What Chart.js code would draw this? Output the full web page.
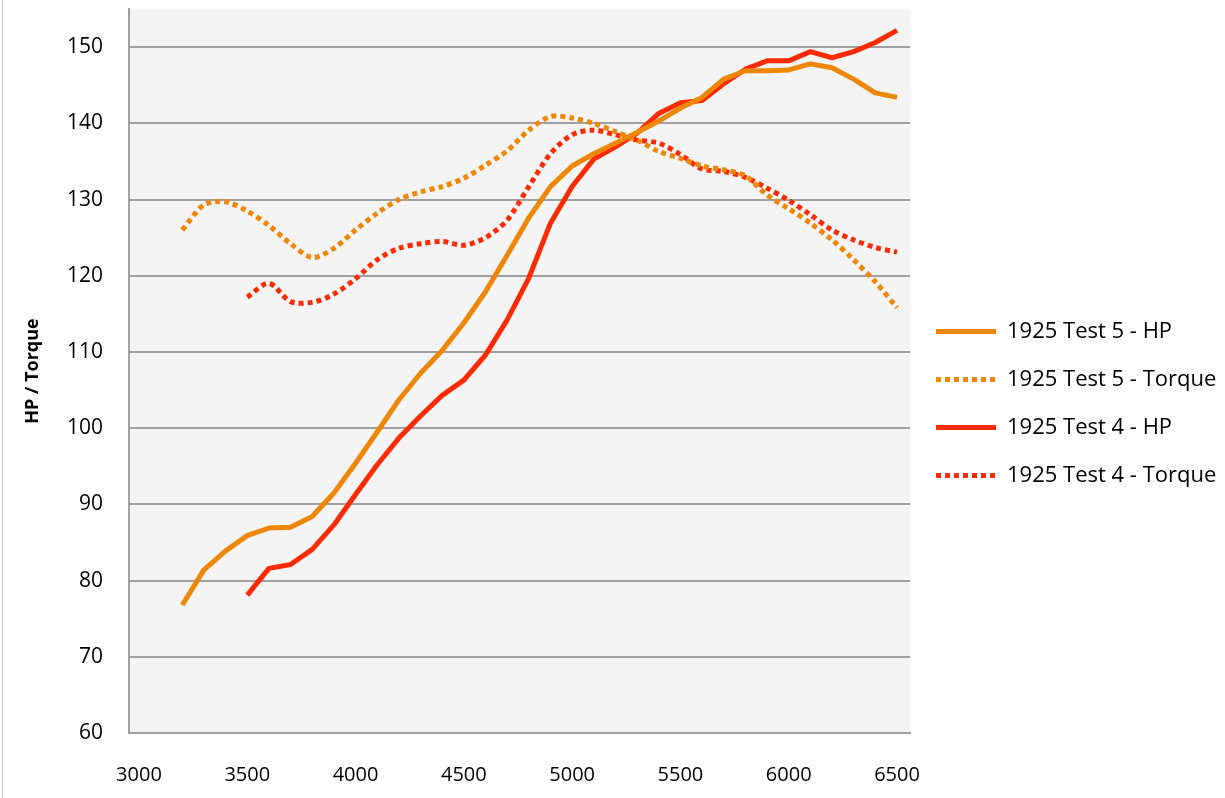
<!DOCTYPE html>
<html>
<head>
<meta charset="utf-8">
<script src="https://cdn.jsdelivr.net/npm/chart.js@4/dist/chart.umd.min.js"></script>
<style>
  html, body { margin: 0; padding: 0; background: #fff; }
  #wrap { position: relative; width: 1225px; height: 798px; }
  #edge { position: absolute; left: 2px; top: 0; width: 1px; height: 798px; background: #c8c8c8; }
</style>
</head>
<body>
<div id="wrap">
  <canvas id="dyno" width="1225" height="798"></canvas>
  <div id="edge"></div>
</div>
<script>
// rpm points for each run
const rpmTest5 = [3200, 3300, 3400, 3500, 3600, 3700, 3800, 3900, 4000, 4100, 4200, 4300, 4400, 4500, 4600, 4700, 4800,
  4900, 5000, 5100, 5200, 5300, 5400, 5500, 5600, 5700, 5800, 5900, 6000, 6100, 6200, 6300, 6400, 6500];
const rpmTest4 = [3500, 3600, 3700, 3800, 3900, 4000, 4100, 4200, 4300, 4400, 4500, 4600, 4700, 4800,
  4900, 5000, 5100, 5200, 5300, 5400, 5500, 5600, 5700, 5800, 5900, 6000, 6100, 6200, 6300, 6400, 6500];

const hpTest5 = [76.8, 81.4, 83.9, 85.9, 86.9, 87.0, 88.4, 91.5, 95.4, 99.5, 103.7, 107.2, 110.2, 113.8, 117.9, 122.7, 127.6,
  131.7, 134.4, 136.0, 137.4, 138.8, 140.3, 142.0, 143.4, 145.8, 146.9, 146.9, 147.0, 147.8, 147.3, 145.8, 144.0, 143.4];
const torqueTest5 = [126.0, 129.3, 129.7, 128.5, 126.6, 124.2, 122.4, 123.6, 126.0, 128.2, 130.0, 131.0, 131.7, 132.8, 134.5, 136.4, 139.1,
  140.9, 140.7, 140.0, 138.9, 137.8, 136.3, 135.4, 134.4, 133.9, 133.1, 130.6, 128.8, 126.9, 124.7, 122.1, 119.2, 115.8];
const hpTest4 = [78.1, 81.6, 82.1, 84.1, 87.3, 91.3, 95.2, 98.7, 101.6, 104.3, 106.3, 109.6, 114.2, 119.7,
  126.9, 131.7, 135.3, 136.9, 138.7, 141.3, 142.7, 143.0, 145.2, 147.1, 148.2, 148.2, 149.4, 148.6, 149.4, 150.6, 152.2];
const torqueTest4 = [117.2, 119.0, 116.6, 116.5, 117.6, 119.6, 122.1, 123.6, 124.2, 124.5, 124.0, 125.0, 127.3, 131.7,
  136.0, 138.5, 139.1, 138.5, 137.8, 137.4, 135.9, 134.0, 133.7, 132.9, 131.5, 129.9, 128.0, 126.0, 124.7, 123.7, 123.1];

const seriesNames = ["1925 Test 5 - HP", "1925 Test 5 - Torque", "1925 Test 4 - HP", "1925 Test 4 - Torque"];
const xTicks = [3000, 3500, 4000, 4500, 5000, 5500, 6000, 6500];
const yTicks = [60, 70, 80, 90, 100, 110, 120, 130, 140, 150];

const ORANGE = "#EE8606";
const RED = "#FF2B00";
const FONT = "'Open Sans', sans-serif";
const DOTS = [5, 4];

function pts(xs, ys) {
  return xs.map((x, i) => ({ x: x, y: ys[i] }));
}

function line(label, xs, ys, color, dotted) {
  return {
    label: label,
    data: pts(xs, ys),
    borderColor: color,
    backgroundColor: color,
    borderWidth: 5,
    borderDash: dotted ? DOTS : [],
    borderCapStyle: "butt",
    borderJoinStyle: "round",
    pointRadius: 0,
    tension: dotted ? 0.3 : 0,
    fill: false
  };
}

// grey plot area behind the lines
const plotBg = {
  id: "plotBg",
  beforeDraw(chart) {
    const a = chart.chartArea;
    const c = chart.ctx;
    c.save();
    c.fillStyle = "#F4F4F4";
    c.fillRect(a.left, a.top, a.right - a.left, a.bottom - a.top);
    c.restore();
  }
};

// legend gets a fixed width so the plot ends where the original did
const legendWidth = {
  id: "legendWidth",
  beforeLayout(chart) {
    const lg = chart.legend;
    if (lg && !lg._fixed) {
      const fit = lg.fit;
      lg.fit = function () { fit.call(this); this.width = 315; };
      lg._fixed = true;
    }
  }
};

function draw() {
  new Chart(document.getElementById("dyno"), {
    type: "line",
    data: {
      datasets: [
        line(seriesNames[0], rpmTest5, hpTest5, ORANGE, false),
        line(seriesNames[1], rpmTest5, torqueTest5, ORANGE, true),
        line(seriesNames[2], rpmTest4, hpTest4, RED, false),
        line(seriesNames[3], rpmTest4, torqueTest4, RED, true)
      ]
    },
    options: {
      responsive: false,
      animation: false,
      layout: { padding: { top: 9, right: 0, bottom: 0, left: 0 } },
      plugins: {
        tooltip: { enabled: false },
        legend: {
          position: "right",
          align: "center",
          labels: {
            usePointStyle: true,
            pointStyle: "line",
            pointStyleWidth: 60,
            boxHeight: 5,
            padding: 26,
            color: "#000",
            font: { family: FONT, size: 22 },
            generateLabels(chart) {
              const items = Chart.defaults.plugins.legend.labels.generateLabels(chart);
              items.forEach(it => {
                const ds = chart.data.datasets[it.datasetIndex];
                it.lineWidth = ds.borderWidth;
                it.lineDash = ds.borderDash;
                it.lineCap = "butt";
                it.strokeStyle = ds.borderColor;
                it.pointStyle = "line";
              });
              return items;
            }
          }
        }
      },
      scales: {
        x: {
          type: "linear",
          min: 2954,
          max: 6560,
          afterBuildTicks(axis) { axis.ticks = xTicks.map(v => ({ value: v })); },
          afterFit(axis) { axis.height = 65; axis.paddingLeft = 0; axis.paddingRight = 0; },
          grid: { display: false },
          border: { display: true, color: "#A0A0A0", width: 2 },
          ticks: {
            color: "#000", padding: 22, maxRotation: 0,
            font: { family: FONT, size: 20 },
            callback: v => String(v)
          }
        },
        y: {
          min: 60,
          max: 155,
          afterBuildTicks(axis) { axis.ticks = yTicks.map(v => ({ value: v })); },
          afterFit(axis) { axis.width = 129; axis.paddingTop = 0; axis.paddingBottom = 0; },
          grid: { color: "#A0A0A0", lineWidth: 2, drawTicks: false },
          border: { display: true, color: "#A0A0A0", width: 2 },
          ticks: { color: "#000", padding: 26, font: { family: FONT, size: 21 } },
          title: {
            display: true,
            text: "HP / Torque",
            color: "#000",
            padding: { top: 22, bottom: 0 },
            font: { family: FONT, size: 18, weight: "bold" }
          }
        }
      }
    },
    plugins: [plotBg, legendWidth]
  });
}

Promise.all([
  document.fonts.load("22px 'Open Sans'"),
  document.fonts.load("bold 18px 'Open Sans'")
]).then(draw, draw);
</script>
</body>
</html>
